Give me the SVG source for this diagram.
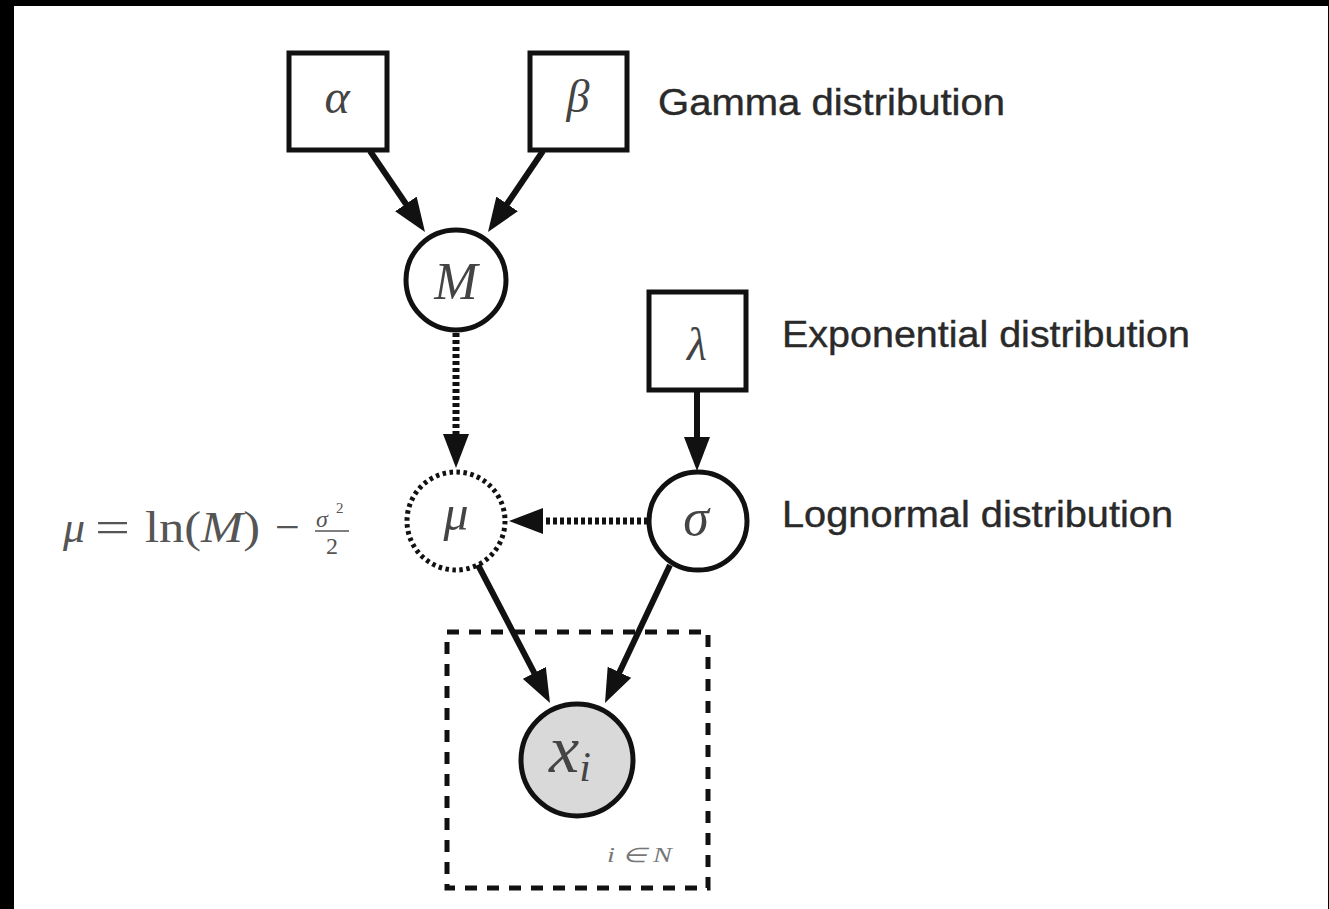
<svg xmlns="http://www.w3.org/2000/svg" width="1329" height="909" viewBox="0 0 1329 909">
<style>
.box{fill:#fff;stroke:#111;stroke-width:5}
.node{fill:#fff;stroke:#111;stroke-width:5}
.sym{font-family:"Liberation Serif","DejaVu Serif",serif;font-style:italic;fill:#444;text-anchor:middle}
.lbl{font-family:"Liberation Sans",Arial,sans-serif;fill:#2a2a2a;font-size:37px;stroke:#2a2a2a;stroke-width:0.4}
.eq{font-family:"Liberation Serif","DejaVu Serif",serif;fill:#555}
.edge{stroke:#111;stroke-width:6;fill:none}
.dot{stroke:#111;stroke-width:7;fill:none;stroke-dasharray:4 3}
</style>
<defs>
<marker id="ah" markerUnits="userSpaceOnUse" viewBox="0 0 34 26" refX="18" refY="13" markerWidth="34" markerHeight="26" orient="auto">
<path d="M0,0 L34,13 L0,26 Z" fill="#111"/>
</marker>
</defs>
<rect x="0" y="0" width="1329" height="909" fill="#000"/>
<rect x="14" y="6" width="1314" height="903" fill="#fff"/>

<g id="connectors">
<line class="edge" x1="370" y1="151" x2="416" y2="218.8" marker-end="url(#ah)"/>
<line class="edge" x1="543" y1="151" x2="497" y2="218.8" marker-end="url(#ah)"/>
<line class="dot" x1="456" y1="333" x2="456" y2="452" marker-end="url(#ah)"/>
<line class="edge" x1="697" y1="392" x2="697" y2="455" marker-end="url(#ah)"/>
<line class="dot" x1="648" y1="521" x2="525" y2="521" marker-end="url(#ah)"/>
<line class="edge" x1="477" y1="563" x2="542.6" y2="688.8" marker-end="url(#ah)"/>
<line class="edge" x1="670" y1="565" x2="611.8" y2="688.5" marker-end="url(#ah)"/>
</g>

<g id="plate">
<rect x="447" y="632" width="261" height="256" fill="none" stroke="#111" stroke-width="5" stroke-dasharray="12 10"/>
<text x="607" y="862" font-family="Liberation Serif,serif" font-style="italic" font-size="20" fill="#777" textLength="65" lengthAdjust="spacingAndGlyphs">i ∈ N</text>
</g>

<g id="alpha">
<rect class="box" x="289" y="53" width="98" height="97"/>
<text class="sym" x="337" y="113" font-size="48">α</text>
</g>
<g id="beta">
<rect class="box" x="530" y="53" width="97" height="97"/>
<text class="sym" x="578" y="112" font-size="46">β</text>
</g>
<g id="gamma-label">
<text class="lbl" x="658" y="115" textLength="347" lengthAdjust="spacingAndGlyphs">Gamma distribution</text>
</g>
<g id="M">
<circle class="node" cx="456" cy="280" r="50"/>
<text class="sym" x="456" y="299" font-size="52">M</text>
</g>
<g id="lambda">
<rect class="box" x="649" y="292" width="97" height="98"/>
<text class="sym" x="697" y="360" font-size="46">λ</text>
</g>
<g id="exp-label">
<text class="lbl" x="782" y="347" textLength="408" lengthAdjust="spacingAndGlyphs">Exponential distribution</text>
</g>
<g id="mu">
<circle cx="456" cy="521" r="49" fill="#fff" stroke="#111" stroke-width="5" stroke-dasharray="3.5 3.5"/>
<text class="sym" x="456" y="530" font-size="50">μ</text>
</g>
<g id="sigma">
<circle class="node" cx="698" cy="521" r="49"/>
<text class="sym" x="696" y="535" font-size="52">σ</text>
</g>
<g id="logn-label">
<text class="lbl" x="782" y="527" textLength="391" lengthAdjust="spacingAndGlyphs">Lognormal distribution</text>
</g>
<g id="equation">
<text class="eq" x="63" y="542" font-size="44" font-style="italic">μ</text>
<text class="eq" x="95" y="542" font-size="44" textLength="35" lengthAdjust="spacingAndGlyphs">=</text>
<text class="eq" x="145" y="542" font-size="44" textLength="115" lengthAdjust="spacingAndGlyphs">ln(<tspan font-style="italic">M</tspan>)</text>
<text class="eq" x="275" y="542" font-size="44">−</text>
<text class="eq" x="316" y="527" font-size="24" font-style="italic">σ</text>
<text class="eq" x="336" y="513" font-size="15">2</text>
<line x1="315" y1="531" x2="349" y2="531" stroke="#555" stroke-width="1.5"/>
<text class="eq" x="326" y="554" font-size="24">2</text>
</g>
<g id="xi">
<circle cx="577" cy="760" r="56" fill="#d9d9d9" stroke="#111" stroke-width="5"/>
<text class="sym" x="570" y="772" font-size="68">x<tspan font-size="42" dy="9">i</tspan></text>
</g>
</svg>
